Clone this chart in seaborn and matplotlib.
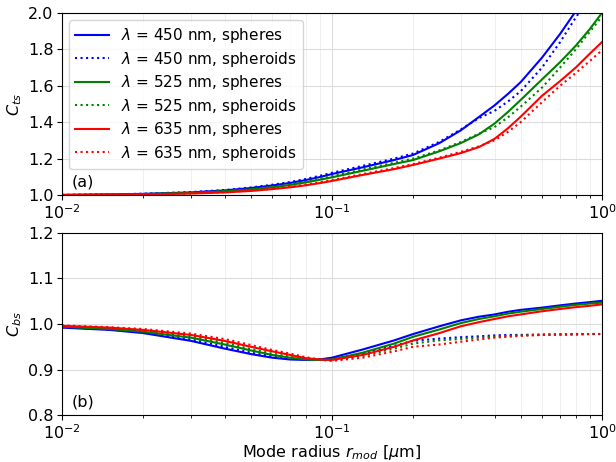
import numpy as np
import pandas as pd
import matplotlib
matplotlib.use("Agg")
import matplotlib.pyplot as plt
import seaborn as sns

# ---- data ----
radius = [0.01, 0.015, 0.02, 0.03, 0.04, 0.05, 0.06, 0.07, 0.08, 0.09, 0.1, 0.13,
          0.17, 0.2, 0.25, 0.3, 0.35, 0.4, 0.45, 0.5, 0.6, 0.7, 0.8, 0.9, 1.0]

cts_450_sph = [1.000, 1.003, 1.006, 1.014, 1.025, 1.038, 1.052, 1.066, 1.082, 1.098, 1.115, 1.152,
               1.192, 1.220, 1.285, 1.355, 1.428, 1.492, 1.557, 1.620, 1.755, 1.885, 2.010, 2.125, 2.235]
cts_450_spd = [1.000, 1.003, 1.007, 1.016, 1.027, 1.041, 1.056, 1.071, 1.088, 1.105, 1.122, 1.160,
               1.200, 1.228, 1.292, 1.360, 1.422, 1.462, 1.515, 1.570, 1.700, 1.840, 1.975, 2.085, 2.180]
cts_525_sph = [1.000, 1.002, 1.005, 1.011, 1.020, 1.030, 1.042, 1.055, 1.069, 1.083, 1.097, 1.133,
               1.170, 1.192, 1.240, 1.285, 1.333, 1.392, 1.458, 1.522, 1.635, 1.730, 1.820, 1.910, 2.000]
cts_525_spd = [1.000, 1.002, 1.005, 1.012, 1.021, 1.032, 1.045, 1.058, 1.073, 1.088, 1.103, 1.140,
               1.177, 1.200, 1.245, 1.291, 1.336, 1.373, 1.428, 1.485, 1.590, 1.700, 1.800, 1.895, 1.980]
cts_635_sph = [1.000, 1.001, 1.003, 1.008, 1.014, 1.022, 1.032, 1.042, 1.053, 1.065, 1.077, 1.110,
               1.142, 1.165, 1.200, 1.230, 1.263, 1.308, 1.368, 1.430, 1.545, 1.626, 1.700, 1.775, 1.840]
cts_635_spd = [1.000, 1.001, 1.003, 1.009, 1.015, 1.024, 1.034, 1.045, 1.057, 1.069, 1.082, 1.115,
               1.148, 1.170, 1.205, 1.237, 1.267, 1.300, 1.348, 1.400, 1.510, 1.600, 1.670, 1.735, 1.795]

cbs_450_sph = [0.992, 0.987, 0.980, 0.963, 0.946, 0.934, 0.926, 0.922, 0.921, 0.922, 0.926, 0.944,
               0.964, 0.978, 0.995, 1.008, 1.016, 1.021, 1.027, 1.031, 1.036, 1.041, 1.045, 1.048, 1.051]
cbs_450_spd = [0.993, 0.988, 0.982, 0.966, 0.950, 0.937, 0.929, 0.924, 0.922, 0.922, 0.923, 0.935,
               0.952, 0.963, 0.968, 0.971, 0.973, 0.975, 0.976, 0.976, 0.977, 0.977, 0.978, 0.978, 0.978]
cbs_525_sph = [0.994, 0.989, 0.983, 0.970, 0.955, 0.942, 0.932, 0.926, 0.922, 0.921, 0.922, 0.937,
               0.957, 0.972, 0.988, 1.002, 1.011, 1.017, 1.023, 1.027, 1.033, 1.038, 1.042, 1.045, 1.047]
cbs_525_spd = [0.995, 0.990, 0.985, 0.973, 0.959, 0.945, 0.935, 0.928, 0.923, 0.921, 0.920, 0.930,
               0.946, 0.957, 0.964, 0.967, 0.970, 0.972, 0.974, 0.975, 0.976, 0.977, 0.977, 0.978, 0.978]
cbs_635_sph = [0.996, 0.992, 0.987, 0.976, 0.963, 0.950, 0.940, 0.932, 0.925, 0.922, 0.921, 0.932,
               0.950, 0.964, 0.980, 0.995, 1.004, 1.011, 1.017, 1.021, 1.028, 1.033, 1.037, 1.040, 1.043]
cbs_635_spd = [0.997, 0.993, 0.989, 0.979, 0.967, 0.954, 0.943, 0.935, 0.927, 0.922, 0.919, 0.926,
               0.940, 0.950, 0.955, 0.961, 0.966, 0.970, 0.972, 0.974, 0.976, 0.977, 0.977, 0.978, 0.978]

wavelengths = [450, 525, 635]
colors = ["blue", "green", "red"]
shapes = ["spheres", "spheroids"]

cts = {(450, "spheres"): cts_450_sph, (450, "spheroids"): cts_450_spd,
       (525, "spheres"): cts_525_sph, (525, "spheroids"): cts_525_spd,
       (635, "spheres"): cts_635_sph, (635, "spheroids"): cts_635_spd}
cbs = {(450, "spheres"): cbs_450_sph, (450, "spheroids"): cbs_450_spd,
       (525, "spheres"): cbs_525_sph, (525, "spheroids"): cbs_525_spd,
       (635, "spheres"): cbs_635_sph, (635, "spheroids"): cbs_635_spd}

plt.rcParams["font.size"] = 11.5
plt.rcParams["xtick.major.pad"] = 2.5
plt.rcParams["ytick.major.pad"] = 2.5

fig = plt.figure(figsize=(6.16, 4.62), dpi=100)
ax1 = fig.add_axes([0.1006, 0.578, 0.8766, 0.394])
ax2 = fig.add_axes([0.1006, 0.1017, 0.8766, 0.394])

for wl, col in zip(wavelengths, colors):
    for sh in shapes:
        ls = "-" if sh == "spheres" else ":"
        lab = rf"$\lambda$ = {wl} nm, {sh}"
        sns.lineplot(x=radius, y=cts[(wl, sh)], color=col, linestyle=ls, lw=1.5,
                     label=lab, ax=ax1)
        sns.lineplot(x=radius, y=cbs[(wl, sh)], color=col, linestyle=ls, lw=1.5,
                     ax=ax2, legend=False)

for ax in (ax1, ax2):
    ax.set_xscale("log")
    ax.set_xlim(0.01, 1.0)
    ax.grid(True, which="major", color="#dcdcdc", lw=0.8)
    ax.grid(True, which="minor", color="#ececec", lw=0.6)
    ax.set_axisbelow(True)

ax1.set_ylim(1.0, 2.0)
ax1.set_yticks([1.0, 1.2, 1.4, 1.6, 1.8, 2.0])
ax1.set_ylabel(r"$C_{ts}$", labelpad=3)
ax1.set_xlabel("")
ax1.legend(loc="upper left", handlelength=2.2, fontsize=11, borderaxespad=0.45,
           labelspacing=0.3)
ax1.text(0.018, 0.03, "(a)", transform=ax1.transAxes, fontsize=11.5, va="bottom", ha="left")

ax2.set_ylim(0.8, 1.2)
ax2.set_yticks([0.8, 0.9, 1.0, 1.1, 1.2])
ax2.set_ylabel(r"$C_{bs}$", labelpad=3)
ax2.set_xlabel(r"Mode radius $r_{mod}$ [$\mu$m]", labelpad=1)
ax2.text(0.018, 0.03, "(b)", transform=ax2.transAxes, fontsize=11.5, va="bottom", ha="left")

fig.savefig("out.png", dpi=100)
